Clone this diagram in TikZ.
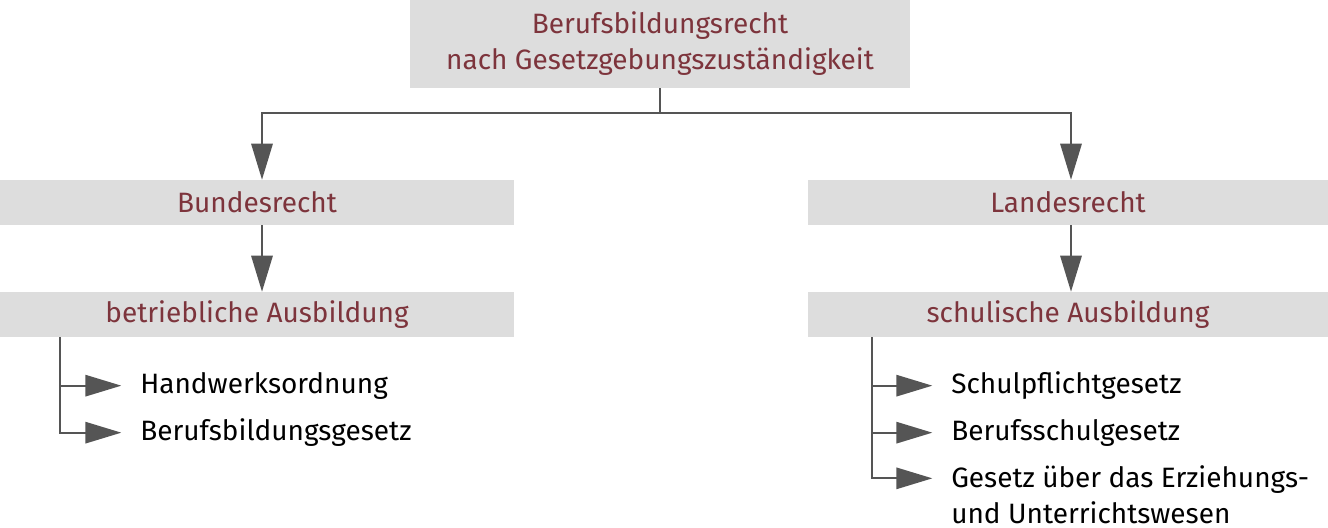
\documentclass[tikz,border=0pt]{standalone}
\usepackage{fontspec}
\setmainfont{Fira Sans}
\usetikzlibrary{arrows.meta}
\definecolor{boxgray}{HTML}{DDDDDD}
\definecolor{headred}{HTML}{7D343C}
\definecolor{linegray}{HTML}{555555}
\begin{document}
\begin{tikzpicture}[x=0.75pt,y=-0.75pt,
		font=\fontsize{21}{27}\selectfont,
		head/.style={fill=boxgray,text=headred,inner sep=0pt,minimum height=33.75pt},
		law/.style={anchor=base west,inner sep=0pt,align=left},
		tree/.style={draw=linegray,line width=1.5pt},
		conn/.style={tree,-{Triangle[length=27pt,width=16pt]}},
		branch/.style={conn,shorten >=14pt}]
		\useasboundingbox (0,0) rectangle (1328,528);
		\node[head,minimum width=375pt,minimum height=66pt,align=center] (top) at (660,44) {Berufsbildungsrecht\\nach Gesetzgebungszuständigkeit};
		\node[head,minimum width=385.5pt] (bund) at (257,202.5) {Bundesrecht};
		\node[head,minimum width=390pt] (land) at (1068,202.5) {Landesrecht};
		\node[head,minimum width=385.5pt] (betr) at (257,314.5) {betriebliche Ausbildung};
		\node[head,minimum width=390pt] (schul) at (1068,314.5) {schulische Ausbildung};
		\node[law] (hwo) at (140,393) {Handwerksordnung};
		\node[law] (bbig) at (140,440) {Berufsbildungsgesetz};
		\node[law] (spg) at (951,393) {Schulpflichtgesetz};
		\node[law] (bsg) at (951,440) {Berufsschulgesetz};
		\node[law] (gue) at (951,523) {Gesetz über das Erziehungs-\\und Unterrichtswesen};
		\draw[tree] (top.south) -- ++(0,25) coordinate (fork);
		\draw[conn] (fork) -| ([xshift=3.75pt]bund.north);
		\draw[conn] (fork) -| ([xshift=2.25pt]land.north);
		\draw[conn] ([xshift=3.75pt]bund.south) -- ([xshift=3.75pt]betr.north);
		\draw[conn] ([xshift=2.25pt]land.south) -- ([xshift=2.25pt]schul.north);
		\draw[branch] ([xshift=45pt]betr.south west) |- ([yshift=5.5pt]hwo.base west);
		\draw[branch] ([xshift=45pt]betr.south west) |- ([yshift=5.5pt]bbig.base west);
		\draw[branch] ([xshift=48pt]schul.south west) |- ([yshift=5.5pt]spg.base west);
		\draw[branch] ([xshift=48pt]schul.south west) |- ([yshift=5.5pt]bsg.base west);
		\draw[branch] ([xshift=48pt]schul.south west) |- ([yshift=33.5pt]gue.base west);
	\end{tikzpicture}
\end{document}
